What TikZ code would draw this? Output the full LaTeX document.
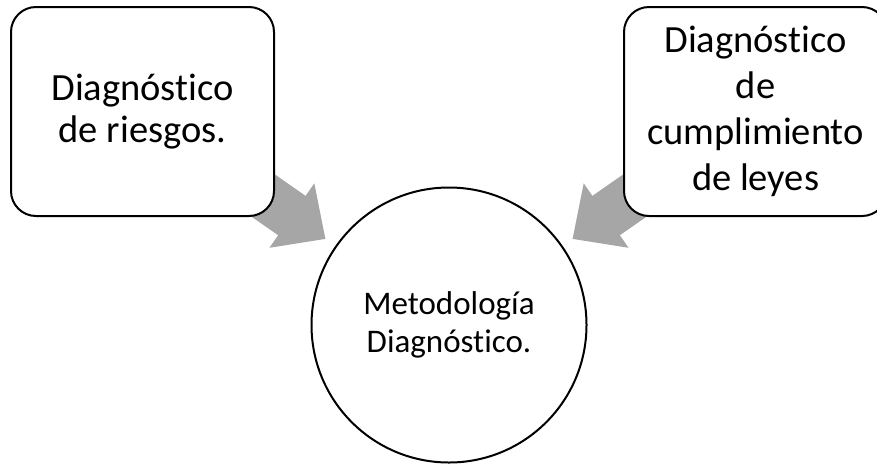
\documentclass[tikz,border=0pt]{standalone}
\usepackage{fontspec}
\setmainfont{Carlito}[Ligatures=NoCommon]
\usepackage{tikz}
\usetikzlibrary{arrows.meta,backgrounds}
\tikzset{  box/.style={draw,line width=2pt,rounded corners=25pt,fill=white,minimum width=263pt,minimum height=209pt,align=center,font=\fontsize{38.5}{42}\selectfont} }
\tikzset{  hub/.style={draw,circle,line width=2pt,fill=white,minimum size=275pt,inner sep=0pt,align=center,font=\fontsize{33}{38}\selectfont} }
\definecolor{flowgray}{HTML}{A6A6A6}

\begin{document}
\begin{tikzpicture}[x=1pt,y=-1pt,flow/.style={draw=flowgray,line width=48pt,shorten >=12pt,-{Triangle[width=76pt,length=41pt]},flowgray}]
   \useasboundingbox (0,0) rectangle (877,464);
   \node[hub] (met) at (449,325) {Metodología\\Diagnóstico.};
   \node[box] (risk) at (142.5,111.5) {Diagnóstico\\de riesgos.};
   \node[box,font=\fontsize{38.5}{46}\selectfont] (law) at (755.5,111.5) {Diagnóstico\\de\\cumplimiento\\de leyes};
   \begin{scope}[on background layer]
   \draw[flow] (risk.center) -- (met);
   \draw[flow] (law.center) -- (met);
   \end{scope}
  \end{tikzpicture}
\end{document}
